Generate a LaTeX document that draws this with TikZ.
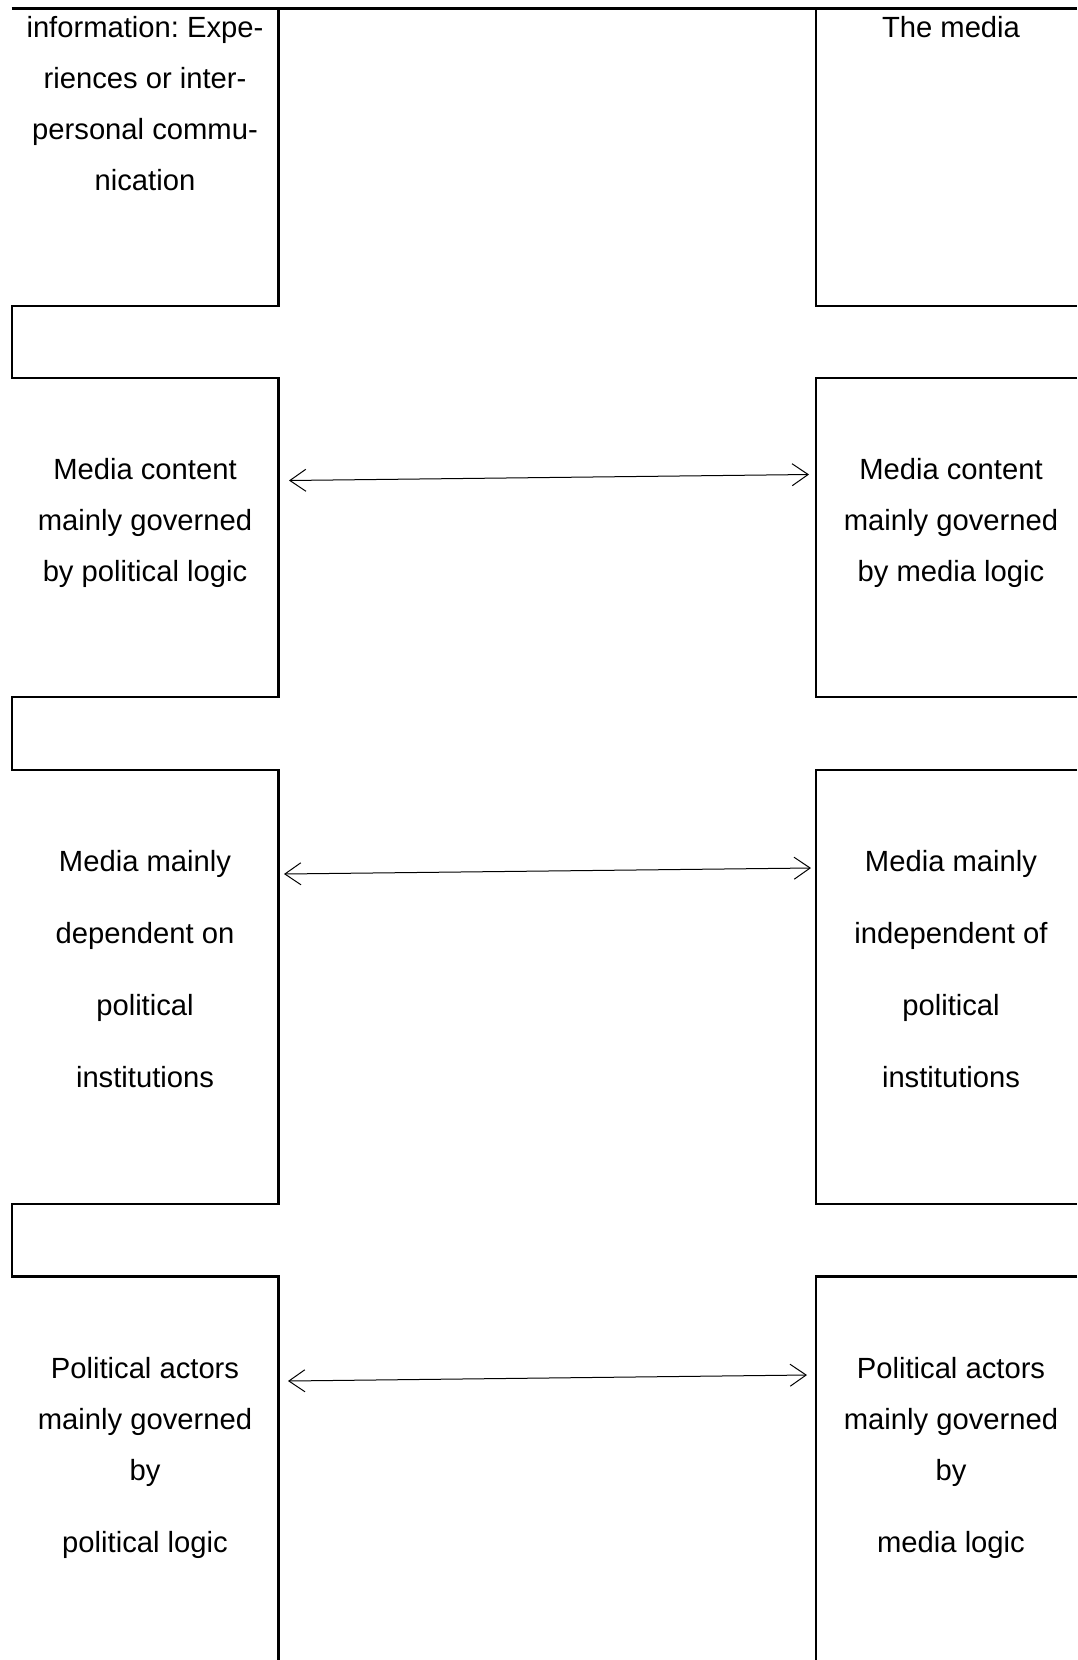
\documentclass[tikz,border=0pt]{standalone}
\usepackage{fontspec}
\setmainfont{Liberation Sans}
\usetikzlibrary{arrows.meta}
\frenchspacing
\begin{document}
\begin{tikzpicture}[x=1pt,y=-1pt,
  frame/.style={line width=2.2pt,line join=miter},
  txt/.style={anchor=north,inner sep=0pt,align=center,font=\fontsize{29.2}{51}\selectfont},
  link/.style={line width=1pt,{Straight Barb[length=16pt,width=22pt,line width=1pt]}-{Straight Barb[length=16pt,width=22pt,line width=1pt]}}]
\useasboundingbox (0,0) rectangle (1077,1660);
\fill[white] (0,0) rectangle (1077,1660);
% top line
\draw[frame] (11.7,8.5) -- (1077,8.5);
% left column outline
\draw[frame] (278.5,8.5) -- (278.5,306) -- (11.7,306) -- (11.7,378) -- (278.5,378)
  -- (278.5,697) -- (11.7,697) -- (11.7,770) -- (278.5,770)
  -- (278.5,1204) -- (11.7,1204) -- (11.7,1276.5) -- (278.5,1276.5) -- (278.5,1660);
% right column outline
\draw[frame] (816,8.5) -- (816,306) -- (1077,306);
\draw[frame] (1077,378) -- (816,378) -- (816,697) -- (1077,697);
\draw[frame] (1077,770) -- (816,770) -- (816,1204) -- (1077,1204);
\draw[frame] (1077,1276.5) -- (816,1276.5) -- (816,1660);
% texts
\node[txt] (l1) at (145,1.3) {\strut information: Expe-\\riences or inter-\\personal commu-\\nication};
\node[txt] (r1) at (951,1.3) {\strut The media};
\node[txt] (l2) at (145,443.8) {\strut Media content\\mainly governed\\by political logic};
\node[txt] (r2) at (951,443.8) {\strut Media content\\mainly governed\\by media logic};
\node[txt] (l3) at (145,835.8) {\strut Media mainly\\[21pt]dependent on\\[21pt]political\\[21pt]institutions};
\node[txt] (r3) at (951,835.8) {\strut Media mainly\\[21pt]independent of\\[21pt]political\\[21pt]institutions};
\node[txt] (l4) at (145,1342.8) {\strut Political actors\\mainly governed\\by\\[21pt]political logic};
\node[txt] (r4) at (951,1342.8) {\strut Political actors\\mainly governed\\by\\[21pt]media logic};
% arrows
\coordinate (a1l) at (289,480.5);
\coordinate (a1r) at (809,474.5);
\coordinate (a2l) at (284,874);
\coordinate (a2r) at (811,868);
\coordinate (a3l) at (288,1381);
\coordinate (a3r) at (807,1375);
\draw[link] (a1l) -- (a1r);
\draw[link] (a2l) -- (a2r);
\draw[link] (a3l) -- (a3r);
\end{tikzpicture}
\end{document}
